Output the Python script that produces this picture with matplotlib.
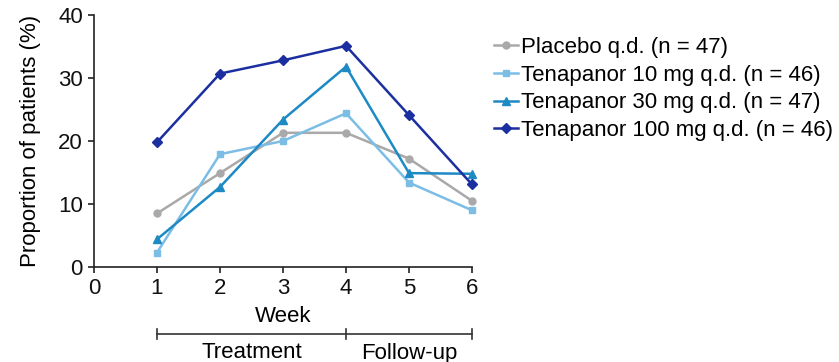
import matplotlib
matplotlib.use("Agg")
import matplotlib.pyplot as plt
from matplotlib.transforms import blended_transform_factory

weeks = [1, 2, 3, 4, 5, 6]
placebo = [8.5, 14.9, 21.3, 21.3, 17.2, 10.5]
tena10 = [2.3, 17.9, 20.0, 24.4, 13.4, 9.0]
tena30 = [4.4, 12.7, 23.4, 31.8, 14.9, 14.8]
tena100 = [19.8, 30.7, 32.8, 35.1, 24.1, 13.1]
labels = ["Placebo q.d. (n = 47)", "Tenapanor 10 mg q.d. (n = 46)",
          "Tenapanor 30 mg q.d. (n = 47)", "Tenapanor 100 mg q.d. (n = 46)"]
xticks = [0, 1, 2, 3, 4, 5, 6]
yticks = [0, 10, 20, 30, 40]
phases = ["Treatment", "Follow-up"]
phase_bounds = [1, 4, 6]

plt.rcParams['font.family'] = ['Liberation Sans', 'DejaVu Sans']
FS = 16
fig = plt.figure(figsize=(8.39, 3.62), dpi=100)
ax = fig.add_axes([94/839, 1-267/362, (472-94)/839, (267-15)/362])

series = [placebo, tena10, tena30, tena100]
colors = ["#a9a9a9", "#7cbde6", "#1d8ac4", "#1c2fa0"]
markers = ["o", "s", "^", "D"]
msizes = [5, 5, 6, 5]
for s, c, m, ms, lab in zip(series, colors, markers, msizes, labels):
    ax.plot(weeks, s, color=c, marker=m, markersize=ms, linewidth=1.8, label=lab, clip_on=False)

ax.set_xlim(0, 6)
ax.set_ylim(0, 40)
ax.set_xticks(xticks)
ax.set_yticks(yticks)
ax.tick_params(labelsize=FS, direction='out', length=4, width=1.2, pad=4,
               colors='#222222', labelcolor='#111111')
for sp in ['top', 'right']:
    ax.spines[sp].set_visible(False)
for sp in ['left', 'bottom']:
    ax.spines[sp].set_linewidth(1.2)
    ax.spines[sp].set_color('#222222')
ax.set_ylabel("Proportion of patients (%)", fontsize=FS, labelpad=12)
ax.set_xlabel("Week", fontsize=FS, labelpad=5)

# Treatment / Follow-up bracket
tr = blended_transform_factory(ax.transData, fig.transFigure)
yb = 1 - 334/362
ax.plot([phase_bounds[0], phase_bounds[-1]], [yb, yb], transform=tr, color='#333333', lw=1.2, clip_on=False)
for xv in phase_bounds:
    ax.plot([xv, xv], [yb - 0.013, yb + 0.013], transform=tr, color='#333333', lw=1.2, clip_on=False)
for i, name in enumerate(phases):
    xc = (phase_bounds[i] + phase_bounds[i + 1]) / 2
    fig.text(xc, 1 - 353/362, name, transform=tr, fontsize=FS, ha='center', va='center')

ax.legend(loc='upper left', bbox_to_anchor=(494/839, 1 - 37/362), bbox_transform=fig.transFigure,
          frameon=False, fontsize=FS, handlelength=1.1, handletextpad=0.1, labelspacing=0.3,
          borderaxespad=0, borderpad=0)

fig.savefig("out.png", dpi=100)
